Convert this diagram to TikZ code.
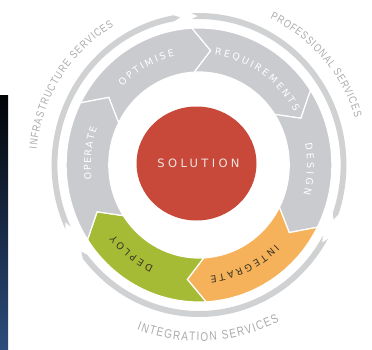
\documentclass[tikz,border=0pt]{standalone}
\usepackage{fontspec}
\usetikzlibrary{decorations.text}
\setmainfont{DejaVu Sans}
\newfontfamily\bandfont{DejaVu Sans}
\newfontfamily\svcfont[FakeStretch=0.8]{Liberation Sans}
\newfontfamily\solfont[LetterSpace=29]{DejaVu Sans}
\definecolor{bandgray}{HTML}{CACBCE}
\definecolor{ringgray}{HTML}{D0D1D3}
\definecolor{svctext}{HTML}{ABABAB}
\definecolor{solred}{HTML}{C8483A}
\definecolor{solwhite}{HTML}{EFE6E2}
\definecolor{deploygreen}{HTML}{A6BB35}
\definecolor{integorange}{HTML}{F6B25A}
\definecolor{darklabel}{HTML}{3A3522}
\definecolor{paneltop}{HTML}{020407}
\definecolor{panelbot}{HTML}{2C4C7C}
\tikzset{segline/.style={draw=white, line width=1.2pt}}
\newcommand\lightfmt{\bandfont\fontsize{9.5}{10}\selectfont\color{white}}
\newcommand\darkfmt{\bandfont\fontsize{9.5}{10}\selectfont\color{darklabel}}
\newcommand\svcfmt{\svcfont\fontsize{11}{12}\selectfont\color{svctext}}
\newcommand\svcbigfmt{\svcfont\fontsize{12.5}{13}\selectfont\color{svctext}}
% text along an arc: #1 format macro, #2 radius, #3 start angle, #4 end angle, #5 text
\newcommand\arctext[5]{%
  \path[decorate, decoration={text along path, text={|#1|#5}, text align={fit to path}}]
    (#3:#2) arc[start angle=#3, end angle=#4, radius=#2];}
% band segment: #1 colour, #2 start angle, #3 end angle (clockwise)
\newcommand\bandseg[3]{%
  \filldraw[fill=#1, segline] (#2:137) arc[start angle=#2, end angle=#3, radius=137]
    -- ({#3-9}:115) -- (#3:93) arc[start angle=#3, end angle=#2, radius=93]
    -- ({#2-9}:115) -- cycle;}
% outer service arc: #1 start angle, #2 end angle (clockwise)
\newcommand\svcarc[2]{%
  \fill[ringgray] (#1:152) arc[start angle=#1, end angle=#2, radius=152]
    -- ({#2-2.5}:149) -- (#2:146) arc[start angle=#2, end angle=#1, radius=146]
    -- ({#1-2.5}:149) -- cycle;}
\begin{document}
\begin{tikzpicture}[x=1pt,y=1pt]
\useasboundingbox (0,0) rectangle (372,349);
\fill[white] (0,0) rectangle (372,349);
% dark panel at the left edge
\shade[top color=paneltop, bottom color=panelbot] (0,0) rectangle (8,254);
% ring
\begin{scope}[shift={(199,184)}, xscale=0.97]
  \svcarc{205}{100}
  \svcarc{93}{-19}
  \svcarc{-29}{-142}
  \bandseg{bandgray}{153}{93}
  \bandseg{bandgray}{93}{33}
  \bandseg{bandgray}{33}{-27}
  \bandseg{integorange}{-27}{-87}
  \bandseg{deploygreen}{-87}{-147}
  \bandseg{bandgray}{213}{153}
  \arctext{\lightfmt}{111.5}{135}{103}{OPTIMISE}
  \arctext{\lightfmt}{111.5}{81.7}{28.3}{REQUIREMENTS}
  \arctext{\lightfmt}{111.5}{11.2}{-15.2}{DESIGN}
  \arctext{\darkfmt}{111.5}{-45.3}{-84.1}{INTEGRATE}
  \arctext{\darkfmt}{111.5}{-114.8}{-141.2}{DEPLOY}
  \arctext{\lightfmt}{111.5}{187.6}{160.4}{OPERATE}
\end{scope}
% service labels
\begin{scope}[shift={(199,184)}]
  \arctext{\svcfmt}{163}{174.5}{121.5}{INFRASTRUCTURE SERVICES}
  \arctext{\svcfmt}{163}{64.1}{16.9}{PROFESSIONAL SERVICES}
  \arctext{\svcbigfmt}{176}{-110.7}{-62.9}{INTEGRATION SERVICES}
\end{scope}
% centre
\fill[solred] (196.5,185.5) ellipse[x radius=60, y radius=57];
\node[inner sep=0pt, text=solwhite, font=\solfont\fontsize{11.5}{12}\selectfont] (solution) at (198.5,185.5) {SOLUTION};
\end{tikzpicture}
\end{document}
